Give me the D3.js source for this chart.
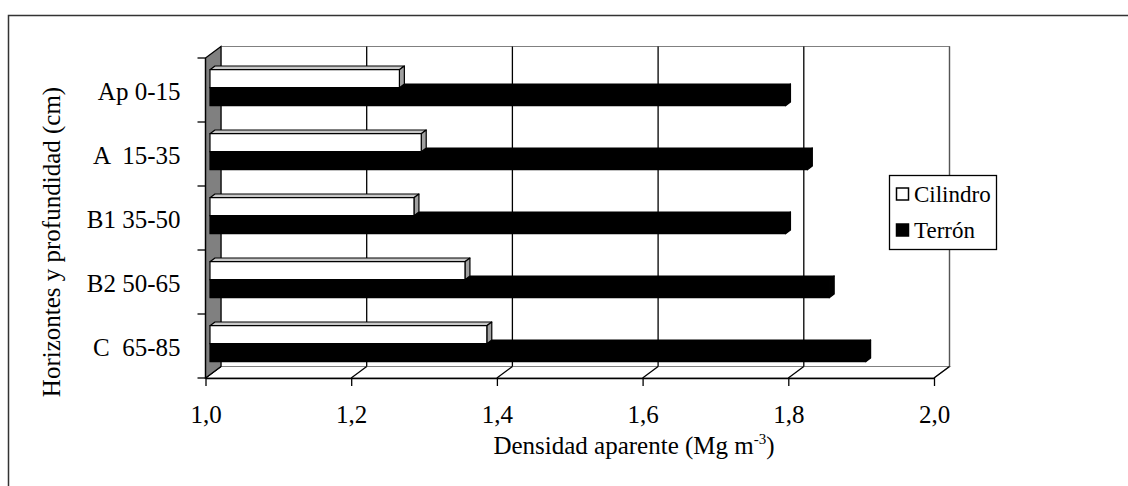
<!DOCTYPE html>
<html>
<head>
<meta charset="utf-8">
<script src="https://cdn.jsdelivr.net/npm/d3@7"></script>
<style>
  html, body { margin: 0; padding: 0; background: #fff; }
  svg { display: block; }
  text { font-family: "Liberation Serif", "Times New Roman", serif; fill: #000; }
</style>
</head>
<body>
<svg id="chart" width="1128" height="486"></svg>
<script>
// ---- data ----
const categories = ["Ap 0-15", "A  15-35", "B1 35-50", "B2 50-65", "C  65-85"];
const series = ["Cilindro", "Terrón"];
const cilindro = [1.26, 1.29, 1.28, 1.35, 1.38];
const terron = [1.79, 1.82, 1.79, 1.85, 1.90];
const xTicks = [1.0, 1.2, 1.4, 1.6, 1.8, 2.0];
const xTickLabels = ["1,0", "1,2", "1,4", "1,6", "1,8", "2,0"];
const xTitle = "Densidad aparente (Mg m";
const xTitleSup = "-3";
const yTitle = "Horizontes y profundidad (cm)";

// ---- layout ----
const svg = d3.select("#chart");
const W = 1128, H = 486;
const x = d3.scaleLinear().domain([1, 2]).range([205.5, 934]);
const y = d3.scaleBand().domain(categories).range([58, 378]);
const sub = d3.scaleBand().domain(series).range([15, 51]);
const DX = 15.5, DY = -11.5;      // depth of the plot box
const T0 = 0.29, T1 = 0.61;       // bar front / back depth fractions
const P = (v, yy, t) => [x(v) + DX * t, yy + DY * t];
const poly = pts => "M" + pts.map(p => p.join(",")).join("L") + "Z";

// outer frame
svg.append("rect").attr("x", 8.5).attr("y", 15.5).attr("width", W + 20).attr("height", H + 20)
  .attr("fill", "#fff").attr("stroke", "#333").attr("stroke-width", 1.5);

const yTopF = y.range()[0], yBotF = y.range()[1];

// back wall
svg.append("path")
  .attr("d", poly([P(1, yTopF, 1), P(2, yTopF, 1), P(2, yBotF, 1), P(1, yBotF, 1)]))
  .attr("fill", "#fff").attr("stroke", "#808080").attr("stroke-width", 1.2);

// floor
svg.append("path")
  .attr("d", poly([P(1, yBotF, 0), P(2, yBotF, 0), P(2, yBotF, 1), P(1, yBotF, 1)]))
  .attr("fill", "#fff").attr("stroke", "#808080").attr("stroke-width", 1.2);

// gridlines on back wall and floor
const grid = svg.append("g").attr("stroke", "#000").attr("stroke-width", 1.3).attr("fill", "none");
xTicks.forEach(v => {
  if (v > 1) {
    grid.append("path").attr("d", "M" + P(v, yTopF, 1).join(",") + "L" + P(v, yBotF, 1).join(","))
      .attr("stroke", v === 2 ? "#555" : "#000");
  }
  grid.append("path").attr("d", "M" + P(v, yBotF, 0).join(",") + "L" + P(v, yBotF, 1).join(","));
});

// side wall
svg.append("path")
  .attr("d", poly([P(1, yTopF, 0), P(1, yTopF, 1), P(1, yBotF, 1), P(1, yBotF, 0)]))
  .attr("fill", "#808080").attr("stroke", "#000").attr("stroke-width", 1.2);

// bars
const colors = { "Cilindro": { front: "#fff", top: "#c8c8c8", side: "#a0a0a0" },
                 "Terrón": { front: "#000", top: "#000", side: "#000" } };
const data = categories.map((c, i) => ({ cat: c, vals: { "Cilindro": cilindro[i], "Terrón": terron[i] } }));
const barsG = svg.append("g");
data.forEach(d => {
  ["Terrón", "Cilindro"].forEach(s => {
    const v = d.vals[s];
    const yt = y(d.cat) + sub(s), yb = yt + sub.bandwidth();
    const col = colors[s];
    const g = barsG.append("g").attr("stroke", "#000").attr("stroke-width", 1.2).attr("stroke-linejoin", "round");
    g.append("path").attr("d", poly([P(1, yt, T0), P(v, yt, T0), P(v, yt, T1), P(1, yt, T1)])).attr("fill", col.top);
    g.append("path").attr("d", poly([P(v, yt, T0), P(v, yt, T1), P(v, yb, T1), P(v, yb, T0)])).attr("fill", col.side);
    g.append("path").attr("d", poly([P(1, yt, T0), P(v, yt, T0), P(v, yb, T0), P(1, yb, T0)])).attr("fill", col.front);
  });
});

// left axis (category axis)
const yAxisG = svg.append("g").attr("stroke", "#000").attr("stroke-width", 1.3);
yAxisG.append("line").attr("x1", x(1)).attr("x2", x(1)).attr("y1", yTopF).attr("y2", yBotF);
categories.map(c => y(c)).concat([yBotF]).forEach(yy => {
  yAxisG.append("line").attr("x1", x(1) - 8).attr("x2", x(1)).attr("y1", yy).attr("y2", yy);
});
const yLab = svg.append("g").attr("transform", `translate(${x(1)},0)`)
  .call(d3.axisLeft(y).tickSize(0).tickPadding(25));
yLab.select(".domain").remove();
yLab.selectAll("text").attr("font-size", 25).attr("dy", "0.4em")
  .style("font-family", '"Liberation Serif", serif').style("white-space", "pre");

// bottom axis
const xAxisG = svg.append("g").attr("transform", `translate(0,${yBotF})`)
  .call(d3.axisBottom(x).tickValues(xTicks).tickSize(8).tickSizeOuter(0)
    .tickFormat((d, i) => xTickLabels[i]));
xAxisG.select(".domain").attr("stroke-width", 1.3);
xAxisG.selectAll(".tick line").attr("stroke-width", 1.3);
xAxisG.selectAll("text").attr("font-size", 25).attr("y", 45).attr("dy", null)
  .style("font-family", '"Liberation Serif", serif');

// x title
const xt = svg.append("text").attr("x", 634).attr("y", 454).attr("text-anchor", "middle").attr("font-size", 25);
xt.append("tspan").text(xTitle);
xt.append("tspan").attr("font-size", 15).attr("dy", -10).text(xTitleSup);
xt.append("tspan").attr("dy", 10).text(")");

// y title
svg.append("text").attr("transform", "translate(60,242) rotate(-90)")
  .attr("text-anchor", "middle").attr("font-size", 25).text(yTitle);

// legend
const lg = svg.append("g");
lg.append("rect").attr("x", 889.5).attr("y", 175.5).attr("width", 107).attr("height", 74)
  .attr("fill", "#fff").attr("stroke", "#000").attr("stroke-width", 1.3);
series.forEach((s, i) => {
  const yy = 188 + i * 36;
  lg.append("rect").attr("x", 896.5).attr("y", yy).attr("width", 12).attr("height", 12)
    .attr("fill", colors[s].front).attr("stroke", "#000").attr("stroke-width", 1.5);
  lg.append("text").attr("x", 914).attr("y", yy + 13.5).attr("font-size", 23).text(s);
});
</script>
</body>
</html>
